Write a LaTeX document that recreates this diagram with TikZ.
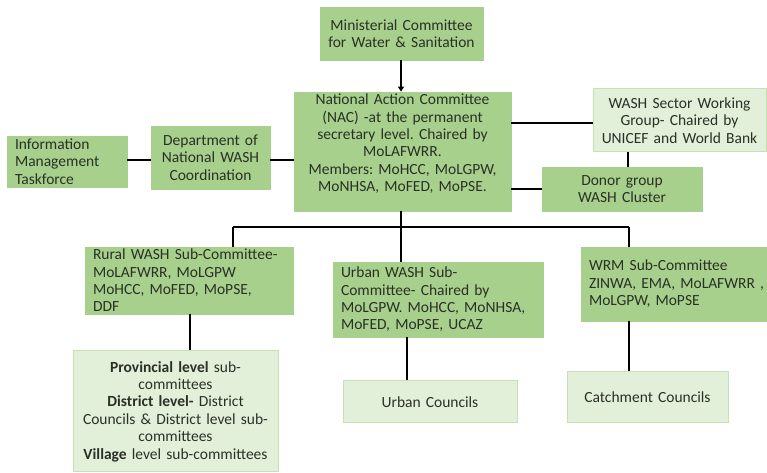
\documentclass[tikz,border=0pt]{standalone}
\usepackage{fontspec}
\setmainfont{Carlito}
\usetikzlibrary{arrows.meta}
\frenchspacing

\begin{document}
\begin{tikzpicture}[x=1pt,y=1pt,line width=1.8pt]
\definecolor{washdark}{RGB}{168,208,141}
\definecolor{washlight}{RGB}{226,239,217}
\definecolor{washedge}{RGB}{200,224,182}
\definecolor{washtext}{RGB}{42,48,38}
\providecommand{\ffour}{\fontsize{15.5}{17.4}\selectfont}
\tikzset{
  darkbox/.style={fill=washdark,draw=washdark,line width=0.6pt,inner xsep=8pt,inner ysep=2pt,font=\ffour,text=washtext},
  lightbox/.style={fill=washlight,draw=washedge,line width=1pt,inner xsep=3pt,inner ysep=2pt,font=\ffour,text=washtext},
  link/.style={draw=black,line width=1.8pt}
}
\useasboundingbox (0,0) rectangle (767,473);
\node[darkbox,inner xsep=3pt,minimum width=163pt,minimum height=53pt,text width=157pt,align=center] (min) at (401.5,439.5) {Ministerial Committee\\for Water \& Sanitation};
\node[darkbox,inner xsep=3pt,minimum width=217pt,minimum height=117pt,text width=211pt,align=center] (nac) at (402.5,321.5) {National Action Committee\\(NAC) -at the permanent\\secretary level. Chaired by\\MoLAFWRR.\\Members: MoHCC, MoLGPW,\\MoNHSA, MoFED, MoPSE.\\\mbox{}};
\node[darkbox,inner xsep=3pt,minimum width=119pt,minimum height=63pt,text width=113pt,align=center] (dept) at (210.5,315.5) {Department of\\National WASH\\Coordination};
\node[darkbox,minimum width=120pt,minimum height=51pt,text width=104pt,align=left] (info) at (67.0,311.5) {Information\\Management\\Taskforce};
\node[lightbox,minimum width=173pt,minimum height=63pt,text width=167pt,align=center] (wswg) at (679.5,352.5) {WASH Sector Working\\Group- Chaired by\\UNICEF and World Bank};
\node[darkbox,inner xsep=3pt,minimum width=160pt,minimum height=44pt,text width=154pt,align=center] (donor) at (622.0,284.0) {Donor group\\WASH Cluster};
\node[darkbox,minimum width=208pt,minimum height=65pt,text width=192pt,align=left] (rural) at (189.0,192.5) {Rural WASH Sub-Committee-\\MoLAFWRR, MoLGPW\\MoHCC, MoFED, MoPSE,\\DDF};
\node[darkbox,minimum width=210pt,minimum height=75pt,text width=194pt,align=left] (urban) at (438.0,173.5) {Urban WASH Sub-\\Committee- Chaired by\\MoLGPW. MoHCC, MoNHSA,\\MoFED, MoPSE, UCAZ};
\node[darkbox,minimum width=185pt,minimum height=74pt,text width=169pt,align=left] (wrm) at (673.5,189.0) {WRM Sub-Committee\\\mbox{ZINWA, EMA, MoLAFWRR\ ,}\\MoLGPW, MoPSE};
\node[lightbox,minimum width=205pt,minimum height=121pt,text width=199pt,align=center] (prov) at (175.5,61.5) {\textbf{Provincial level} sub-\\committees\\\textbf{District level-} District\\Councils \& District level sub-\\committees\\\textbf{Village} level sub-committees};
\node[lightbox,minimum width=174pt,minimum height=42pt,text width=168pt,align=center] (ucoun) at (430.0,71.0) {Urban Councils};
\node[lightbox,minimum width=161pt,minimum height=51pt,text width=155pt,align=center] (catch) at (647.5,75.5) {Catchment Councils};
% top level links
\draw[link,-{Triangle[length=5pt,width=6pt]}] (min.south -| 401,0) -- (nac.north -| 401,0);
\draw[link] (info.east |- 0,313) -- (dept.west |- 0,313);
\draw[link] (dept.east |- 0,313) -- (nac.west |- 0,313);
\draw[link] (nac.east |- 0,350) -- (wswg.west |- 0,350);
\draw[link] (nac.east |- donor.west) -- (donor.west);
\draw[link] (donor.north -| 628,0) -- (wswg.south -| 628,0);
% sub-committee bus
\coordinate (busL) at (233,246);
\coordinate (busR) at (629,246);
\draw[link] (nac.south -| 401,0) -- (urban.north -| 401,0);
\draw[link,line width=1.3pt] (busL) -- (busR);
\draw[link] (busL) -- (busL |- rural.north);
\draw[link] (busR) -- (busR |- wrm.north);
% lower level links
\draw[link] (rural.south -| 190,0) -- (prov.north -| 190,0);
\draw[link] (urban.south -| 407,0) -- (ucoun.north -| 407,0);
\draw[link] (busR |- wrm.south) -- (busR |- catch.north);
\end{tikzpicture}
\end{document}
